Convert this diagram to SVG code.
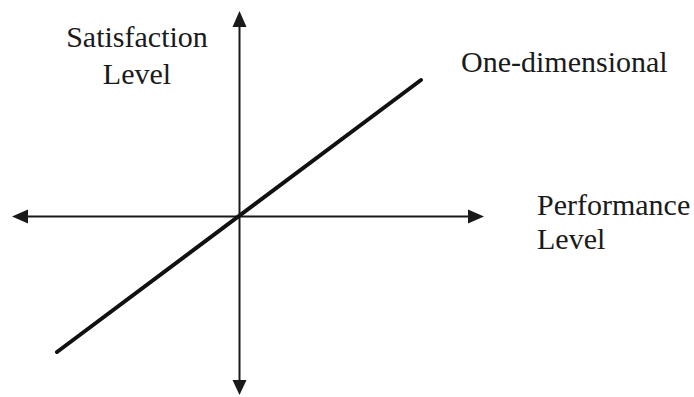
<svg xmlns="http://www.w3.org/2000/svg" width="694" height="397" viewBox="0 0 694 397">
<style>
.lbl{font-family:"Liberation Serif","Times New Roman",serif;font-size:30px;fill:#1a1a1a}
.axis{stroke:#1a1a1a;stroke-width:2;fill:none}
.head{fill:#1a1a1a}
.curve{stroke:#111;stroke-width:4;stroke-linecap:round;fill:none}
</style>
<rect width="694" height="397" fill="#fff"/>
<g id="connectors">
<line class="axis" x1="239.5" y1="22" x2="239.5" y2="384"/>
<line class="axis" x1="24" y1="216.5" x2="472" y2="216.5"/>
<polygon class="head" points="239.5,11 232.5,27 246.5,27"/>
<polygon class="head" points="239.5,395 232.5,380 246.5,380"/>
<polygon class="head" points="12,216.5 28,209.5 28,223.5"/>
<polygon class="head" points="484,216.5 468,209.5 468,223.5"/>
</g>
<g id="one-dimensional-line">
<line class="curve" x1="57" y1="352" x2="421" y2="80"/>
</g>
<g id="satisfaction-label">
<text class="lbl" x="137" y="47" text-anchor="middle">Satisfaction</text>
<text class="lbl" x="137" y="84" text-anchor="middle">Level</text>
</g>
<g id="one-dimensional-label">
<text class="lbl" x="461" y="72">One-dimensional</text>
</g>
<g id="performance-label">
<text class="lbl" x="537" y="215">Performance</text>
<text class="lbl" x="537" y="249">Level</text>
</g>
</svg>
